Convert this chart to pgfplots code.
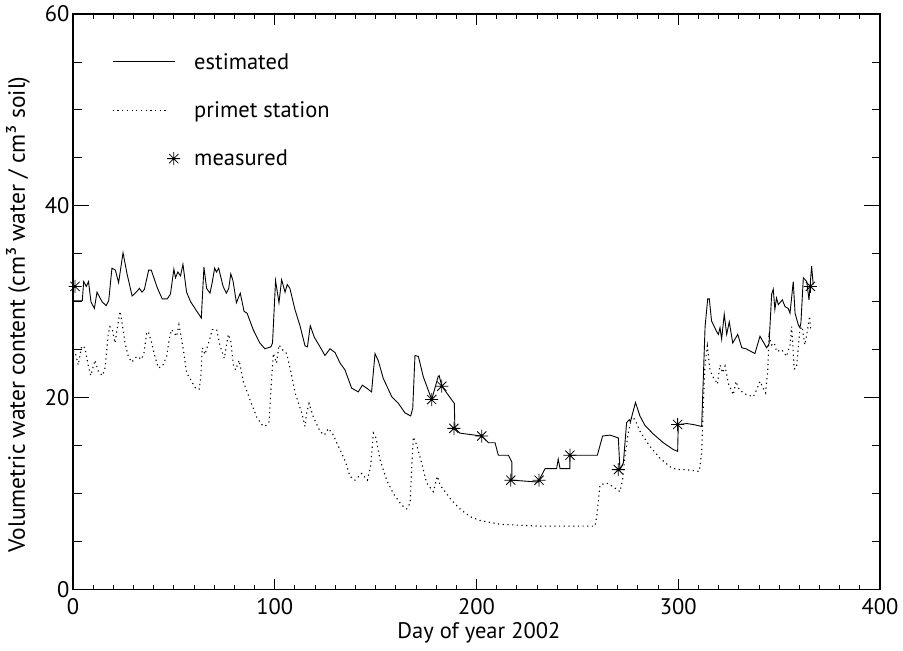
\documentclass[border=0pt]{standalone}
\usepackage{fontspec}
\setmainfont{PT Sans}
\usepackage{pgfplots}
\pgfplotsset{compat=1.18}
\pgfdeclareplotmark{ast8}{%
  \pgfpathmoveto{\pgfqpoint{0pt}{\pgfplotmarksize}}\pgfpathlineto{\pgfqpoint{0pt}{-\pgfplotmarksize}}%
  \pgfpathmoveto{\pgfqpoint{\pgfplotmarksize}{0pt}}\pgfpathlineto{\pgfqpoint{-\pgfplotmarksize}{0pt}}%
  \pgfpathmoveto{\pgfqpoint{0.707\pgfplotmarksize}{0.707\pgfplotmarksize}}\pgfpathlineto{\pgfqpoint{-0.707\pgfplotmarksize}{-0.707\pgfplotmarksize}}%
  \pgfpathmoveto{\pgfqpoint{-0.707\pgfplotmarksize}{0.707\pgfplotmarksize}}\pgfpathlineto{\pgfqpoint{0.707\pgfplotmarksize}{-0.707\pgfplotmarksize}}%
  \pgfusepathqstroke}
\pgfplotstableread{
d v
0 30.1
4.6 30.1
5.3 32.1
6.6 31.6
7.7 32.1
8.9 30.0
10.6 29.3
11.9 31.0
14.4 30.0
16.4 29.6
17.7 30.1
19.3 33.5
21.0 33.3
22.6 32.0
24.8 35.1
26.8 32.9
29.3 30.6
31.8 31.1
32.9 31.4
34.2 31.0
35.4 31.3
37.5 33.3
38.8 33.3
41.7 31.5
44.2 30.3
46.7 30.3
48.3 30.8
50.0 33.4
50.8 32.5
52.0 33.1
53.3 32.7
54.5 33.9
56.3 31.0
58.3 30.0
63.6 28.3
64.9 33.6
66.2 31.4
67.9 30.9
69.0 32.0
70.2 33.5
71.1 33.1
72.2 33.5
74.4 31.6
76.0 30.9
77.2 31.4
78.2 32.9
79.3 32.2
81.0 29.9
82.9 30.9
84.8 29.0
86.3 28.8
89.3 27.1
92.6 25.7
95.1 25.1
98.1 25.3
98.9 25.7
100.4 32.2
102.1 29.9
103.4 32.3
105.1 31.0
106.2 31.8
107.5 31.4
110.0 29.2
112.5 27.5
115.0 25.4
116.2 25.3
117.6 27.5
119.6 26.3
121.6 25.6
124.9 24.4
127.4 25.1
129.9 24.7
132.4 23.6
134.8 22.9
138.1 21.0
141.4 20.6
143.4 21.3
145.5 21.0
148.0 20.6
149.7 24.6
151.4 23.8
153.8 22.0
158.0 20.1
161.3 19.4
164.6 18.4
167.4 18.1
168.4 18.9
169.5 24.4
171.2 24.3
173.6 22.2
177.8 19.8
181.0 22.2
181.5 22.3
182.8 21.2
189.0 19.4
189.3 16.8
191.8 16.3
202.6 16.0
205.9 15.3
209.2 15.3
210.8 14.0
215.8 14.0
217.5 13.3
217.5 11.4
230.6 11.2
231.0 11.4
234.0 12.6
239.7 12.6
240.5 13.6
241.4 12.6
246.3 12.6
246.3 14.0
259.9 14.0
262.5 16.0
266.2 16.1
270.3 15.8
271.1 12.5
272.8 13.2
274.4 17.4
275.7 17.7
276.3 17.5
278.8 19.5
281.0 18.1
283.5 17.1
287.7 16.2
292.6 15.3
297.5 14.6
299.7 14.4
300.0 17.2
304.2 17.3
307.5 17.2
311.6 17.0
313.3 27.4
314.6 30.3
315.4 30.3
316.5 28.0
319.0 26.9
319.9 26.6
320.7 27.3
321.5 26.1
322.8 28.7
324.0 26.6
325.3 27.9
327.0 25.7
329.5 26.6
331.5 25.2
333.5 25.1
338.0 24.6
340.5 26.4
343.8 25.2
345.0 25.6
346.3 30.8
347.1 31.3
347.9 29.2
348.7 30.4
349.6 29.7
351.6 30.2
352.9 29.5
354.5 29.3
355.4 28.8
357.0 32.1
357.9 28.8
359.5 27.6
360.3 27.3
360.8 27.8
362.0 32.5
363.7 32.1
364.8 30.2
366.1 33.7
366.9 31.8
}\estimated
\pgfplotstableread{
d v
0 24.8
1.0 24.8
2.6 23.4
4.3 25.4
5.9 25.2
7.6 23.3
8.8 22.3
10.9 23.9
12.6 22.7
14.6 22.3
15.9 23.1
17.5 26.7
18.3 27.4
19.5 27.1
20.8 25.7
23.3 29.0
24.1 28.1
25.8 25.7
27.4 24.3
29.1 23.7
31.6 24.3
34.0 24.0
35.2 24.7
36.5 26.7
37.3 26.9
39.0 25.7
40.6 24.3
42.3 23.1
44.4 23.3
46.4 24.3
47.7 26.1
48.9 27.1
51.4 26.4
52.5 27.6
53.4 26.6
54.7 25.0
56.3 22.6
58.8 21.7
61.0 20.9
62.6 20.9
63.3 22.1
64.1 25.2
65.4 24.5
67.9 26.2
69.0 27.1
71.2 27.1
72.9 25.4
75.0 24.1
77.0 26.6
78.2 25.9
79.5 23.4
80.6 22.9
82.3 23.9
84.4 21.7
87.7 19.8
91.0 18.0
93.5 17.2
95.2 17.0
97.2 17.5
98.1 20.8
99.3 24.6
100.9 23.6
102.1 25.5
103.8 25.0
105.9 24.6
108.1 22.6
110.1 20.5
113.4 18.4
115.0 17.0
115.8 18.4
117.0 19.4
119.1 18.0
122.4 16.5
124.6 16.1
126.6 16.8
129.1 16.1
130.7 15.3
133.2 14.2
134.9 13.4
137.3 11.8
139.8 11.4
143.1 12.1
145.9 11.4
147.5 12.8
148.9 16.3
150.2 15.8
152.2 13.5
155.5 11.4
158.8 10.0
162.9 8.8
165.4 8.4
167.1 9.0
167.9 12.8
168.7 15.9
170.3 15.1
172.8 13.2
175.3 11.1
178.6 10.2
180.6 11.8
181.9 10.9
184.4 10.2
187.7 9.3
191.8 8.4
196.8 7.6
201.7 7.2
211.6 6.8
221.5 6.7
231.5 6.6
248.0 6.6
258.7 6.6
259.6 7.6
261.2 10.9
264.5 11.1
267.8 10.7
271.1 10.2
272.4 11.4
273.6 13.9
275.2 16.3
277.0 18.0
278.6 17.7
281.0 16.5
286.0 14.9
290.9 13.7
295.9 12.8
299.2 12.5
303.3 12.5
307.4 12.4
310.4 12.3
311.6 14.2
312.4 19.1
313.2 23.3
314.4 25.4
315.7 22.9
317.0 22.2
318.2 21.9
319.4 21.4
320.7 23.4
322.0 22.6
323.2 23.3
324.8 21.5
327.3 20.3
328.6 21.7
330.3 20.8
333.9 20.3
337.2 20.1
338.8 20.8
340.5 21.7
343.3 20.5
344.4 23.0
345.0 26.4
346.3 25.5
347.6 25.7
348.8 24.8
351.3 25.0
353.7 24.3
355.4 25.5
356.2 27.4
357.5 23.0
358.6 23.1
360.3 27.1
361.4 27.4
362.7 25.5
363.8 26.7
365.1 28.5
365.6 27.1
}\primet
\pgfplotstableread{
d v
1.0 31.6
177.8 19.8
182.8 21.2
188.8 16.8
202.6 16.0
217.0 11.4
231.0 11.4
246.3 14.0
270.3 12.5
299.7 17.2
365.5 31.6
}\measured
\begin{document}
\begin{tikzpicture}
\useasboundingbox (-73bp,-61.5bp) rectangle (830bp,589.5bp);
\begin{axis}[
  at={(0,0)}, anchor=south west,
  scale only axis, width=807bp, height=575.5bp,
  xmin=0, xmax=400, ymin=0, ymax=60,
  xtick={0,100,200,300,400}, ytick={0,20,40,60},
  minor x tick num=9, minor y tick num=3,
  tick align=inside, tick pos=both,
  major tick length=16bp, minor tick length=8.5bp,
  xtick style={/pgfplots/major tick length=11bp, /pgfplots/minor tick length=5bp},
  axis line style={line width=1.1bp},
  tick style={black, line width=0.9bp},
  /pgf/number format/assume math mode=true,
  ticklabel style={font=\fontsize{22.5bp}{24bp}\selectfont},
  xticklabel style={yshift=-5bp},
  label style={font=\fontsize{22.5bp}{24bp}\selectfont},
  xlabel={Day of year 2002},
  ylabel={Volumetric water content (cm³ water / cm³ soil)},
  xlabel style={at={(axis description cs:0.503,-0.075)}, anchor=center},
  ylabel style={at={(axis description cs:-0.068,0.478)}, anchor=center, font=\fontsize{23.5bp}{25bp}\selectfont},
  legend cell align=left,
  legend style={draw=none, fill=none, at={(axis description cs:0,1)}, anchor=north west,
    xshift=36bp, yshift=-35bp, row sep=27bp,
    /tikz/every odd column/.append style={column sep=12bp},
    font=\fontsize{22.5bp}{24bp}\selectfont},
]
\addplot[black, line width=0.9bp, legend image code/.code={\draw[black, line width=0.9bp] (0bp,0bp) -- (62bp,0bp);}] table[x=d,y=v] {\estimated};
\addlegendentry{estimated}
\addplot[black, line width=1.1bp, dash pattern=on 1.2bp off 3.5bp, legend image code/.code={\draw[black, line width=1.1bp, dash pattern=on 1.2bp off 3.5bp] (0bp,0bp) -- (56bp,0bp);}] table[x=d,y=v] {\primet};
\addlegendentry{primet station}
\addplot[only marks, black, mark=ast8, mark size=6.5bp, line width=0.8bp, legend image code/.code={\draw[black, line width=0.8bp] plot[mark=ast8, mark size=6.5bp, only marks] coordinates {(61bp,0bp)};}] table[x=d,y=v] {\measured};
\addlegendentry{measured}
\end{axis}
\end{tikzpicture}
\end{document}
